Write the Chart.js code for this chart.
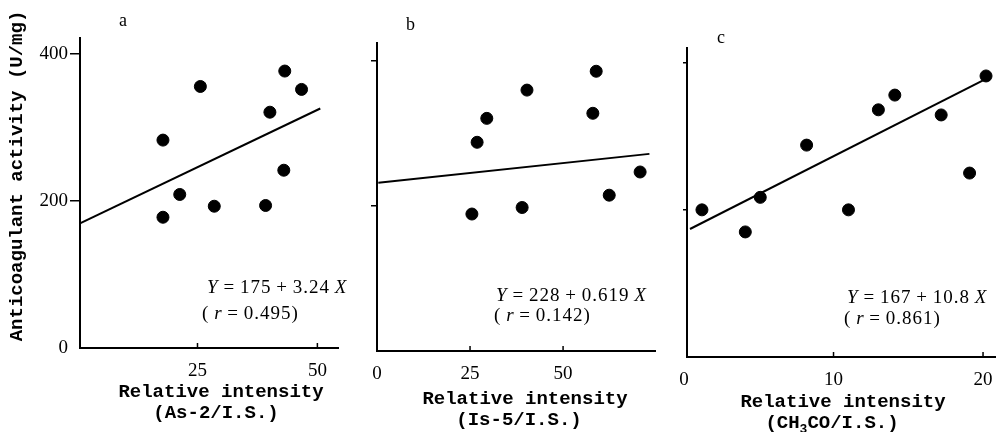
<!DOCTYPE html>
<html>
<head>
<meta charset="utf-8">
<script src="https://cdn.jsdelivr.net/npm/chart.js@4.4.1/dist/chart.umd.min.js"></script>
<style>
  body { margin: 0; width: 1002px; height: 432px; background: #fff; position: relative; overflow: hidden; }
  canvas { position: absolute; top: 0; }
  .t { position: absolute; white-space: nowrap; color: #000; }
  .mono { font-family: "Liberation Mono", "DejaVu Sans Mono", monospace; font-weight: bold; font-size: 19px; line-height: 21px; text-align: center; width: 300px; }
  .serif { font-family: "Liberation Serif", "DejaVu Serif", serif; font-size: 19px; line-height: 22px; letter-spacing: 1px; }
  .letter { font-family: "Liberation Serif", serif; font-size: 18px; line-height: 20px; }
  #ytitle { left: -162px; top: 165px; width: 360px; height: 22px; transform: rotate(-90deg); }
</style>
</head>
<body>
<canvas id="chart-a" width="345" height="432" style="left:0px"></canvas>
<canvas id="chart-b" width="320" height="432" style="left:345px"></canvas>
<canvas id="chart-c" width="337" height="432" style="left:665px"></canvas>

<div class="t mono" id="ytitle">Anticoagulant activity (U/mg)</div>

<div class="t letter" style="left:119px;top:10px">a</div>
<div class="t letter" style="left:406px;top:14px">b</div>
<div class="t letter" style="left:717px;top:27px">c</div>

<div class="t serif" style="left:207px;top:276px"><i>Y</i>&#8201;=&#8201;175&#8201;+&#8201;3.24&#8201;<i>X</i></div>
<div class="t serif" style="left:202px;top:302px">(&#8201;<i>r</i>&#8201;=&#8201;0.495)</div>
<div class="t serif" style="left:496px;top:284px"><i>Y</i>&#8201;=&#8201;228&#8201;+&#8201;0.619&#8201;<i>X</i></div>
<div class="t serif" style="left:494px;top:304px">(&#8201;<i>r</i>&#8201;=&#8201;0.142)</div>
<div class="t serif" style="left:847px;top:286px"><i>Y</i>&#8201;=&#8201;167&#8201;+&#8201;10.8&#8201;<i>X</i></div>
<div class="t serif" style="left:844px;top:307px">(&#8201;<i>r</i>&#8201;=&#8201;0.861)</div>

<div class="t mono" style="left:71px;top:382px">Relative intensity</div>
<div class="t mono" style="left:66px;top:403px">(As-2/I.S.)</div>
<div class="t mono" style="left:375px;top:389px">Relative intensity</div>
<div class="t mono" style="left:369px;top:410px">(Is-5/I.S.)</div>
<div class="t mono" style="left:693px;top:392px">Relative intensity</div>
<div class="t mono" style="left:682px;top:413px">(CH<sub style="font-size:13px;line-height:0">3</sub>CO/I.S.)</div>

<script>
// values
const yTicks = [0, 200, 400];

const xA = [17.8, 17.8, 21.3, 25.6, 28.5, 39.2, 40.1, 43.0, 43.2, 46.7];
const yA = [283, 178, 209, 356, 193, 194, 321, 242, 377, 352];
const fitXA = [0.6, 50.6];
const fitYA = [170, 326];
const xTicksA = [25, 50];

const xB = [26.9, 29.5, 25.5, 39.0, 40.3, 58.0, 58.9, 62.4, 70.7];
const yB = [288, 321, 189, 198, 360, 328, 386, 215, 247];
const fitXB = [0.35, 73.2];
const fitYB = [232, 272];
const xTicksB = [0, 25, 50];

const xC = [1.2, 4.1, 5.1, 8.2, 11.0, 13.0, 14.1, 17.2, 19.1, 20.2];
const yC = [200, 170, 217, 288, 200, 336, 356, 329, 250, 382];
const fitXC = [0.4, 20.1];
const fitYC = [174, 377];
const xTicksC = [0, 10, 20];

const tickFont = { family: '"Liberation Serif", serif', size: 19 };

// x ticks in the figure point up into the plot
const innerTicks = {
    id: 'innerTicks',
    afterDraw(chart) {
        const ctx = chart.ctx;
        const xs = chart.scales.x;
        const bottom = chart.chartArea.bottom;
        ctx.save();
        ctx.strokeStyle = '#000';
        ctx.lineWidth = 1.5;
        xs.ticks.forEach(t => {
            if (t.value === 0) return;
            const px = xs.getPixelForValue(t.value);
            ctx.beginPath();
            ctx.moveTo(px, bottom);
            ctx.lineTo(px, bottom - 5);
            ctx.stroke();
        });
        ctx.restore();
    }
};

function makePanel(id, cfg) {
    const points = cfg.xs.map((x, i) => ({ x, y: cfg.ys[i] }));
    const fit = cfg.fitX.map((x, i) => ({ x, y: cfg.fitY[i] }));
    return new Chart(document.getElementById(id), {
        type: 'scatter',
        data: {
            datasets: [
                {
                    data: points,
                    backgroundColor: '#000',
                    borderColor: '#000',
                    pointRadius: 6,
                    pointHoverRadius: 6
                },
                {
                    data: fit,
                    showLine: true,
                    borderColor: '#000',
                    borderWidth: 2,
                    pointRadius: 0,
                    fill: false
                }
            ]
        },
        options: {
            responsive: false,
            animation: false,
            devicePixelRatio: 1,
            layout: { padding: { top: cfg.top, right: cfg.right, left: 0, bottom: 0 } },
            plugins: { legend: { display: false }, tooltip: { enabled: false } },
            scales: {
                x: {
                    type: 'linear',
                    min: cfg.xMin,
                    max: cfg.xMax,
                    afterBuildTicks: s => { s.ticks = cfg.xTicks.map(v => ({ value: v })); },
                    afterFit: s => { s.height = cfg.xHeight; },
                    grid: { display: false },
                    border: { display: true, color: '#000', width: 2 },
                    ticks: { color: '#000', font: tickFont, padding: 4, maxRotation: 0 }
                },
                y: {
                    type: 'linear',
                    min: 0,
                    max: cfg.yMax,
                    afterBuildTicks: s => { s.ticks = yTicks.map(v => ({ value: v })); },
                    afterFit: s => { s.width = cfg.yWidth; },
                    grid: {
                        drawOnChartArea: false,
                        drawTicks: true,
                        tickLength: cfg.tickLen,
                        lineWidth: 1.5,
                        color: c => (c.tick && c.tick.value === 0) ? 'rgba(0,0,0,0)' : '#000'
                    },
                    border: { display: true, color: '#000', width: 2 },
                    ticks: { display: cfg.yLabels, color: '#000', font: tickFont, padding: 2 }
                }
            }
        },
        plugins: [innerTicks]
    });
}

makePanel('chart-a', {
    xs: xA, ys: yA, fitX: fitXA, fitY: fitYA, xTicks: xTicksA,
    xMin: 0.5, xMax: 54.3, yMax: 422,
    top: 38, right: 5, xHeight: 84, yWidth: 80, tickLen: 10, yLabels: true
});
makePanel('chart-b', {
    xs: xB, ys: yB, fitX: fitXB, fitY: fitYB, xTicks: xTicksB,
    xMin: 0, xMax: 74.7, yMax: 425,
    top: 43, right: 10, xHeight: 81, yWidth: 32, tickLen: 6, yLabels: false
});
makePanel('chart-c', {
    xs: xC, ys: yC, fitX: fitXC, fitY: fitYC, xTicks: xTicksC,
    xMin: 0.2, xMax: 20.8, yMax: 420,
    top: 48, right: 2, xHeight: 75, yWidth: 22, tickLen: 4, yLabels: false
});
</script>
</body>
</html>
